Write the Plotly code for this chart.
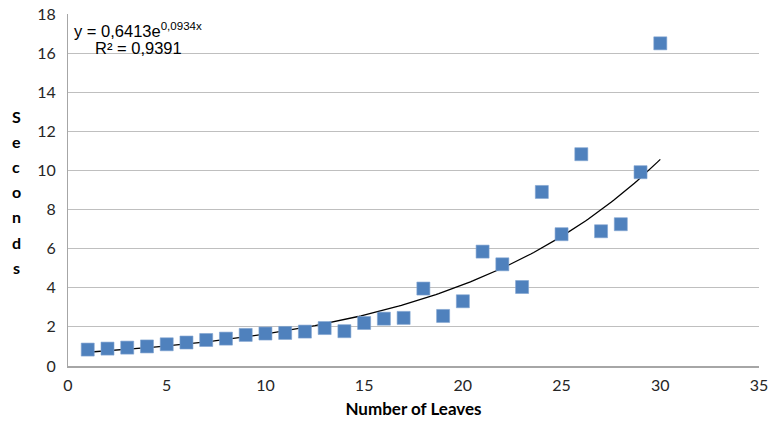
import numpy as np
import plotly.graph_objects as go

leaves = list(range(1, 31))
seconds = [0.84, 0.89, 0.94, 1.00, 1.11, 1.20, 1.33, 1.40, 1.59, 1.66,
           1.69, 1.76, 1.94, 1.78, 2.20, 2.42, 2.46, 3.96, 2.56, 3.31,
           5.85, 5.20, 4.04, 8.90, 6.74, 10.83, 6.89, 7.25, 9.91, 16.50]

fit_a = 0.6413
fit_b = 0.0934
fit_r2 = "0,9391"

xt = np.linspace(1, 30, 200)
yt = fit_a * np.exp(fit_b * xt)

fig = go.Figure()
fig.add_trace(go.Scatter(x=xt, y=yt, mode="lines",
                         line=dict(color="black", width=1.3),
                         hoverinfo="skip", showlegend=False))
fig.add_trace(go.Scatter(x=leaves, y=seconds, mode="markers",
                         marker=dict(symbol="square", size=13, color="#4F81BD",
                                     line=dict(color="#7FA3D0", width=0.6)),
                         showlegend=False))

tick_font = dict(family="Lato, Open Sans, sans-serif", size=16, color="#262626")
title_font = dict(family="Lato, Open Sans, sans-serif", size=17, color="black")

fig.update_layout(
    width=768, height=425,
    margin=dict(l=68, r=9, t=14, b=59),
    paper_bgcolor="white", plot_bgcolor="white",
    xaxis=dict(range=[0, 35], tickvals=[0, 5, 10, 15, 20, 25, 30, 35],
               automargin=False, ticklabeloverflow="allow", ticklabelstandoff=4,
               showgrid=False, zeroline=False, showline=True,
               linecolor="#A6A6A6", linewidth=1.5, tickfont=tick_font,
               ticks="", title=dict(text="<b>Number of Leaves</b>",
                                    font=title_font, standoff=10)),
    yaxis=dict(range=[0, 18], tickvals=list(range(0, 19, 2)),
               automargin=False, ticklabeloverflow="allow",
               showgrid=True, gridcolor="#BFBFBF", gridwidth=1,
               zeroline=False, showline=True, linecolor="#A6A6A6", linewidth=1,
               tickfont=tick_font, ticks="", ticklabelstandoff=8),
)

letters = "Seconds"
for i, ch in enumerate(letters):
    fig.add_annotation(text="<b>%s</b>" % ch, xref="paper", yref="paper",
                       x=-0.075, y=1 - ((116 + 25.2 * i) - 14) / 352,
                       xanchor="center", yanchor="middle", showarrow=False,
                       font=dict(family="Lato, Open Sans, sans-serif", size=16, color="black"))

eq_font = dict(family="Liberation Sans, Arial, sans-serif", size=16.5, color="black")
fig.add_annotation(text="y = 0,6413e<sup>0,0934x</sup>", xref="paper", yref="paper",
                   x=0.006, y=0.99, xanchor="left", yanchor="top", showarrow=False,
                   font=eq_font)
fig.add_annotation(text="R² = " + fit_r2, xref="paper", yref="paper",
                   x=0.036, y=0.935, xanchor="left", yanchor="top", showarrow=False,
                   font=eq_font)

fig.write_html("out.html", config={"displayModeBar": False},
               post_script="document.body.style.margin='0';document.body.style.overflow='hidden';")
